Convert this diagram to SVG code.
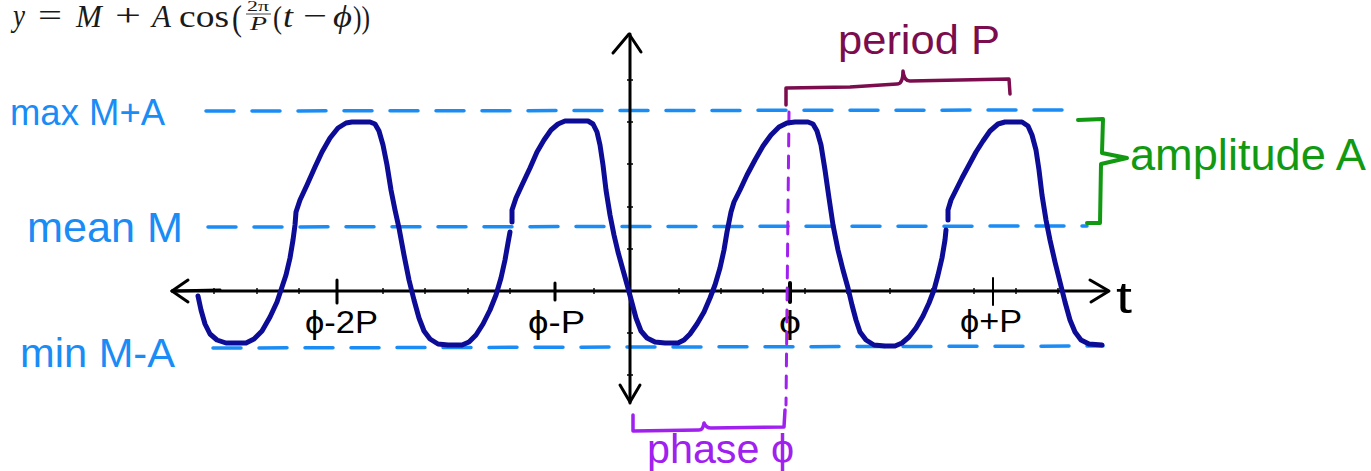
<svg xmlns="http://www.w3.org/2000/svg" width="1371" height="471" viewBox="0 0 1371 471">
<style>
.hand{font-family:"Liberation Sans","DejaVu Sans",sans-serif;}
.blue{fill:#1a8cf5;}
.dash{fill:none;stroke:#1a8cf5;stroke-width:3.5;stroke-linecap:round;stroke-dasharray:28 18;}
.wave{fill:none;stroke:#0c0c96;stroke-width:5;stroke-linejoin:round;stroke-linecap:round;}
.axis{fill:none;stroke:#000;stroke-width:3;stroke-linecap:round;stroke-linejoin:round;}
.minor{stroke:#000;stroke-width:1.4;}
.tick{stroke:#000;stroke-linecap:round;}
.fm{font-family:"Liberation Serif","DejaVu Serif",serif;font-size:31px;fill:#1a1a1a;}
.it{font-style:italic;}
.lbl{font-family:"Liberation Sans","DejaVu Sans",sans-serif;fill:#000;}
</style>
<rect width="1371" height="471" fill="#fff"/>

<g id="formula" class="fm">
<text x="13" y="26" class="it" textLength="12" lengthAdjust="spacingAndGlyphs">y</text>
<text x="38" y="26" textLength="24" lengthAdjust="spacingAndGlyphs">=</text>
<text x="76" y="27" class="it">M</text>
<text x="115" y="26" textLength="26" lengthAdjust="spacingAndGlyphs">+</text>
<text x="152" y="27" class="it">A</text>
<text x="179" y="27" textLength="50" lengthAdjust="spacingAndGlyphs">cos</text>
<text x="232" y="30" font-size="36" textLength="10" lengthAdjust="spacingAndGlyphs">(</text>
<text x="247" y="11" font-size="14" textLength="22" lengthAdjust="spacingAndGlyphs">2π</text>
<line x1="246" y1="14" x2="271" y2="14" stroke="#1a1a1a" stroke-width="0.8"/>
<text x="250" y="30" font-size="19" class="it" textLength="17" lengthAdjust="spacingAndGlyphs">P</text>
<text x="273" y="28" textLength="9" lengthAdjust="spacingAndGlyphs">(</text>
<text x="283" y="27" class="it" textLength="10" lengthAdjust="spacingAndGlyphs">t</text>
<text x="303" y="26" textLength="24" lengthAdjust="spacingAndGlyphs">−</text>
<text x="333" y="27" class="it" textLength="19" lengthAdjust="spacingAndGlyphs">ϕ</text>
<text x="353" y="28" textLength="17" lengthAdjust="spacingAndGlyphs">))</text>
</g>

<g id="level-lines">
<path class="dash" d="M206,111 L1072,110"/>
<path class="dash" d="M208,227 L1087,226"/>
<path class="dash" d="M213,348 L1103,346"/>
</g>

<g id="level-labels" class="hand blue">
<text x="10" y="125" font-size="37" textLength="155" lengthAdjust="spacingAndGlyphs">max M+A</text>
<text x="27" y="242" font-size="42" textLength="156" lengthAdjust="spacingAndGlyphs">mean M</text>
<text x="20" y="367" font-size="41" textLength="155" lengthAdjust="spacingAndGlyphs">min M-A</text>
</g>

<g id="axes">
<path class="axis" d="M172,291 L1108,291"/>
<path class="axis" d="M172,291 L220,290" stroke-width="4"/>
<path class="axis" stroke-width="4" d="M188,280 L172,291 L188,302"/>
<path class="axis" stroke-width="4" d="M1090,280 L1109,291 L1091,302"/>
<path class="axis" d="M630,34 L630,403"/>
<path class="axis" stroke-width="4" d="M613,53 L629,34 L641,52"/>
<path class="axis" stroke-width="4" d="M620,385 L630,402 L640,385"/>
<g class="minor">
<path d="M214,288v6M257,288v6M299,288v6M383,288v6M425,288v6M468,288v6M510,288v6M594,288v6M679,288v6M721,288v6M763,288v6M805,288v6M847,288v6M890,288v6M932,288v6M974,288v6M1016,288v6M1058,288v6"/>
<path d="M627,80h6M627,122h6M627,164h6M627,207h6M627,249h6M627,333h6M627,375h6"/>
</g>
<line class="tick" x1="337" y1="280" x2="337" y2="303" stroke-width="3"/>
<line class="tick" x1="555" y1="283" x2="555" y2="300" stroke-width="3"/>
<line class="tick" x1="790" y1="283" x2="790" y2="302" stroke-width="4"/>
<line class="tick" x1="993" y1="278" x2="993" y2="305" stroke-width="2"/>
<text class="lbl" x="1116" y="313" font-size="44" textLength="16" lengthAdjust="spacingAndGlyphs">t</text>
</g>

<g id="tick-labels" class="lbl" font-size="32">
<text x="305" y="333" textLength="73" lengthAdjust="spacingAndGlyphs">ϕ-2P</text>
<text x="528" y="333" textLength="57" lengthAdjust="spacingAndGlyphs">ϕ-P</text>
<text x="779" y="333" textLength="22" lengthAdjust="spacingAndGlyphs">ϕ</text>
<text x="960" y="332" textLength="62" lengthAdjust="spacingAndGlyphs">ϕ+P</text>
</g>

<g id="phase-guide">
<path d="M789,112 L786,405" fill="none" stroke="#a020f0" stroke-width="3" stroke-linecap="round" stroke-dasharray="12 10"/>
</g>

<g id="waveform">
<path class="wave" d="M198,296 L201,310 L205,324 L210,334 L217,340 L226,343 L246,343 L254,339 L262,331 L270,317 L277,302 L281,290 L286,275 L290,258 L293,240 L295,225 L296,212 L300,200 L307,185 L315,167 L322,152 L330,138 L338,128 L346,123 L352,122 L370,122 L375,124 L379,131 L383,145 L387,165 L391,190 L395,210 L399,228 L404,255 L409,280 L414,300 L419,318 L424,331 L430,339 L438,344 L448,345 L462,345 L469,342 L476,335 L483,324 L490,310 L496,295 L501,278 L505,260 L508,243 L510,232"/>
<path class="wave" d="M512,222 L512,210 L516,198 L522,185 L530,168 L537,152 L544,140 L551,130 L558,124 L565,121 L588,121 L593,124 L597,132 L600,145 L603,165 L606,190 L610,215 L614,235 L618,252 L623,270 L628,288 L632,303 L636,318 L641,331 L647,338 L655,342 L665,343 L678,343 L684,340 L690,334 L697,324 L704,312 L710,298 L715,285 L720,268 L724,250 L727,232 L729,222 L731,212 L734,202 L740,190 L747,175 L755,160 L763,146 L771,135 L779,127 L787,123 L795,122 L808,122 L813,124 L817,131 L821,145 L825,170 L829,198 L833,225 L838,250 L843,270 L848,288 L852,305 L856,320 L860,332 L866,340 L874,345 L885,346 L895,346 L902,343 L909,337 L916,328 L923,316 L929,303 L934,290 L938,275 L942,258 L945,240 L946,230"/>
<path class="wave" d="M948,220 L948,210 L951,200 L956,190 L962,178 L969,165 L976,152 L983,141 L990,131 L998,124 L1005,122 L1022,122 L1028,126 L1032,135 L1036,150 L1039,170 L1042,195 L1046,220 L1050,240 L1055,262 L1060,282 L1065,302 L1070,320 L1075,332 L1081,340 L1089,344 L1102,345"/>
</g>

<g id="period">
<path d="M786,105 L786,88 L850,87 L897,84 Q903,84 903,71 Q904,81 910,81 L1009,79 L1010,94" fill="none" stroke="#7b0d4e" stroke-width="3.5" stroke-linecap="round" stroke-linejoin="round"/>
<text class="hand" x="838" y="54" font-size="40" fill="#7b0d4e" textLength="162" lengthAdjust="spacingAndGlyphs">period P</text>
</g>

<g id="amplitude">
<path d="M1078,120 L1103,119 L1102,153 L1127,158 L1101,164 L1100,223 L1087,223" fill="none" stroke="#119911" stroke-width="4" stroke-linecap="round" stroke-linejoin="round"/>
<text class="hand" x="1130" y="170" font-size="44" fill="#119911" textLength="236" lengthAdjust="spacingAndGlyphs">amplitude A</text>
</g>

<g id="phase">
<path d="M633,415 L633,431 L699,430 Q703,430 704,423 Q706,428 711,428 L784,427 L785,410" fill="none" stroke="#a020f0" stroke-width="3.5" stroke-linecap="round" stroke-linejoin="round"/>
<text class="hand" x="647" y="463" font-size="40" fill="#a020f0" textLength="147" lengthAdjust="spacingAndGlyphs">phase ϕ</text>
</g>
</svg>
